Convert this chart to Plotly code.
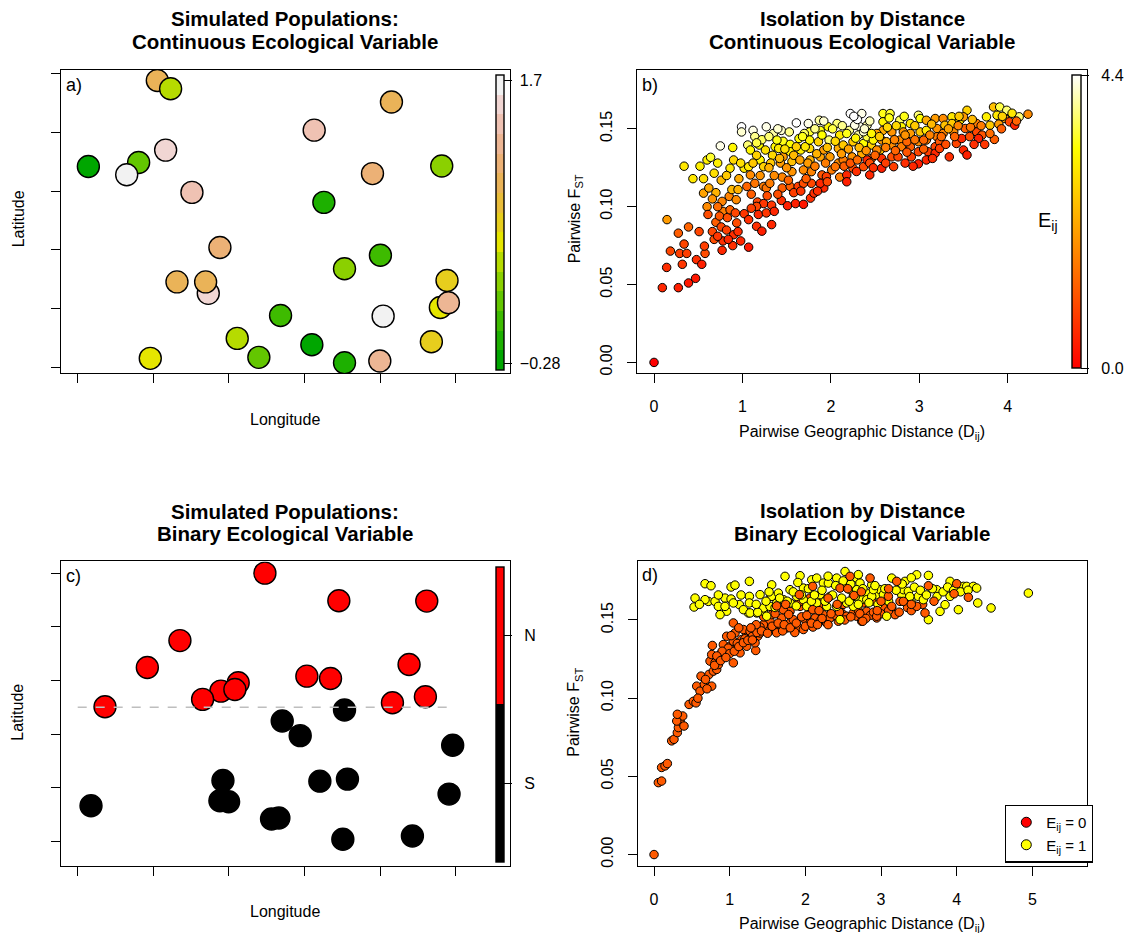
import colorsys
import plotly.graph_objects as go

# ---------------- DATA ----------------
# Panel a: simulated populations, continuous ecological variable
lon_a = [1.053, 1.229, 4.15, 3.128, 1.163, 0.141, 0.806, 0.648, 4.815, 3.899,
         1.511, 3.256, 1.881, 4.004, 3.529, 1.313, 1.727, 1.692, 4.885, 4.797,
         4.903, 2.683, 4.04, 2.11, 3.097, 2.396, 3.529, 3.996, 4.678, 0.960]
lat_a = [4.887, 4.745, 4.52, 4.04, 3.70, 3.42, 3.49, 3.28, 3.43, 3.30,
         2.98, 2.81, 2.04, 1.91, 1.68, 1.455, 1.26, 1.455, 1.478, 1.02,
         1.10, 0.883, 0.872, 0.493, 0.385, 0.17, 0.079, 0.108, 0.436, 0.153]
env_a = [0.98, 0.43, 0.98, 1.40, 1.53, -0.26, 0.16, 1.67, 0.30, 1.12,
         1.40, -0.12, 1.12, 0.02, 0.30, 0.98, 1.53, 0.98, 0.71, 0.57,
         1.26, 0.02, 1.67, 0.43, -0.26, 0.16, -0.12, 1.26, 0.71, 0.57]
env_a_ticks = [-0.28, 1.7]
env_a_ticktext = ["\u22120.28", "1.7"]

# Panel c: simulated populations, binary ecological variable (1 = N, 0 = S)
lon_c = [2.476, 3.454, 4.617, 1.352, 0.921, 4.383, 3.031, 3.344, 2.123, 1.894,
         2.079, 1.652, 0.361, 4.163, 4.599,
         3.529, 2.705, 2.943, 4.960, 1.921, 3.203, 3.568, 1.881, 1.996, 4.912,
         0.176, 2.564, 2.661, 3.507, 4.427]
lat_c = [5.0, 4.486, 4.479, 3.742, 3.240, 3.296, 3.079, 3.036, 2.955, 2.800,
         2.831, 2.646, 2.509, 2.584, 2.695,
         2.447, 2.243, 1.970, 1.791, 1.134, 1.121, 1.159, 0.756, 0.737, 0.880,
         0.663, 0.415, 0.434, 0.037, 0.099]
env_c = [1] * 15 + [0] * 15
boundary_lat = 2.5
boundary_lon = [0, 5]

# Panel b: isolation by distance, continuous variable
D_b = [0, 0.094, 0.275, 0.39, 0.47, 0.143, 0.32, 0.48, 0.54, 0.185,
       0.29, 0.37, 0.34, 0.577, 0.57, 0.147, 0.275, 0.39, 0.51, 0.68,
       0.77, 0.89, 1.07, 0.60, 0.61, 0.70, 0.76, 0.82, 0.78, 0.90,
       0.935, 1.02, 1.07, 1.16, 1.22, 1.18, 1.27, 1.33, 1.17, 1.24,
       1.33, 1.44, 1.51, 1.60, 1.69, 1.77, 1.81, 1.92, 0.56, 0.70,
       0.77, 0.78, 0.85, 0.93, 0.88, 0.95, 0.34, 0.44, 0.52, 0.56,
       0.60, 0.64, 0.68, 0.75, 0.76, 0.89, 0.90, 0.86, 0.99, 0.99,
       1.02, 1.07, 1.06, 1.12, 1.14, 1.19, 1.20, 1.24, 1.27, 1.35,
       1.37, 1.34, 1.32, 1.44, 1.46, 1.46, 1.45, 1.45, 1.53, 1.54,
       1.56, 1.56, 1.54, 1.61, 1.64, 1.66, 1.63, 1.69, 1.745, 1.76,
       1.76, 1.765, 1.78, 1.78, 1.87, 1.88, 1.86, 1.88, 1.90, 1.97,
       1.98, 1.99, 2.01, 2.07, 2.085, 2.085, 2.10, 2.18, 2.18, 2.22,
       2.21, 2.25, 2.24, 2.25, 2.29, 2.35, 2.33, 2.31, 2.37, 2.35,
       2.37, 2.44, 2.41, 2.46, 2.46, 2.41, 2.59, 2.59, 2.59, 2.575,
       2.56, 2.575, 2.575, 2.67, 2.69, 2.69, 2.69, 2.71, 2.78, 2.80,
       2.78, 2.80, 2.76, 2.90, 2.90, 2.90, 2.91, 2.99, 3.01, 3.01,
       2.99, 2.99, 2.99, 3.08, 3.08, 3.08, 3.10, 3.08, 3.18, 3.20,
       3.20, 3.18, 3.18, 3.27, 3.29, 3.27, 3.23, 3.23, 3.37, 3.37,
       3.39, 3.42, 3.48, 3.50, 3.54, 3.46, 3.54, 3.50, 3.52, 3.65,
       3.65, 3.71, 3.67, 3.76, 3.80, 3.85, 3.84, 3.91, 3.88, 3.99,
       3.97, 4.02, 4.08, 4.13, 4.23, 1.09, 1.16, 1.26, 1.39, 1.41,
       1.43, 1.24, 1.27, 1.31, 1.16, 1.05, 1.09, 1.69, 1.88, 1.95,
       2.05, 2.14, 1.54, 1.61, 1.71, 1.76, 1.92, 2.10, 2.14, 2.18,
       2.27, 2.41, 2.37, 2.52, 2.48, 2.52, 2.63, 2.82, 2.86, 3.05]
F_b = [0, 0.048, 0.048, 0.051, 0.054, 0.061, 0.063, 0.066, 0.063, 0.0715,
       0.070, 0.070, 0.076, 0.070, 0.0747, 0.0917, 0.083, 0.087, 0.084, 0.079,
       0.072, 0.075, 0.074, 0.100, 0.095, 0.090, 0.087, 0.085, 0.078, 0.082,
       0.0896, 0.0955, 0.0917, 0.0874, 0.0843, 0.095, 0.096, 0.0885, 0.103, 0.102,
       0.101, 0.104, 0.1006, 0.102, 0.1015, 0.1055, 0.1087, 0.112, 0.1087, 0.109,
       0.1034, 0.097, 0.1066, 0.1045, 0.111, 0.111, 0.126, 0.118, 0.126, 0.118,
       0.130, 0.1317, 0.1215, 0.139, 0.117, 0.138, 0.130, 0.1247, 0.1513, 0.148,
       0.1247, 0.1257, 0.1396, 0.149, 0.145, 0.1396, 0.130, 0.1257, 0.1513, 0.147,
       0.1385, 0.133, 0.128, 0.149, 0.142, 0.132, 0.119, 0.112, 0.148, 0.140,
       0.129, 0.1225, 0.113, 0.1538, 0.1438, 0.1364, 0.113, 0.1236, 0.1534, 0.148,
       0.1374, 0.130, 0.1225, 0.115, 0.1555, 0.149, 0.1417, 0.132, 0.1204, 0.1513,
       0.1428, 0.132, 0.1236, 0.1534, 0.1374, 0.128, 0.119, 0.1204, 0.116, 0.1598,
       0.149, 0.1417, 0.132, 0.1247, 0.1226, 0.1598, 0.1513, 0.146, 0.1406, 0.134,
       0.1257, 0.1204, 0.1449, 0.1396, 0.131, 0.130, 0.1598, 0.1545, 0.149, 0.1428,
       0.1364, 0.131, 0.1247, 0.1598, 0.148, 0.1396, 0.132, 0.1257, 0.1555, 0.1513,
       0.1428, 0.1385, 0.132, 0.1534, 0.147, 0.1385, 0.132, 0.1587, 0.1566, 0.148,
       0.1417, 0.1353, 0.1275, 0.1555, 0.149, 0.1428, 0.1353, 0.130, 0.1566, 0.1502,
       0.1449, 0.1385, 0.1343, 0.1566, 0.1523, 0.147, 0.1417, 0.1374, 0.1577, 0.1534,
       0.148, 0.1406, 0.1438, 0.1364, 0.1332, 0.1555, 0.1619, 0.1577, 0.1502, 0.1534,
       0.148, 0.146, 0.1438, 0.1577, 0.1523, 0.1432, 0.164, 0.164, 0.1587, 0.1619,
       0.1566, 0.1545, 0.1523, 0.1577, 0.1594, 0.1364, 0.133, 0.1364, 0.1428, 0.1374,
       0.128, 0.113, 0.112, 0.115, 0.1002, 0.113, 0.1204, 0.115, 0.115, 0.1194,
       0.1257, 0.130, 0.1353, 0.1385, 0.1385, 0.1428, 0.1364, 0.146, 0.1396, 0.147,
       0.1523, 0.1523, 0.1481, 0.147, 0.1428, 0.1364, 0.1417, 0.148, 0.1417, 0.1428]
E_b = [0, 0.5, 0.4, 0.3, 0.3, 0.6, 0.7, 0.6, 0.4, 0.9,
       0.8, 0.8, 0.9, 1.0, 0.8, 2.0, 1.2, 1.3, 0.9, 1.0,
       0.5, 0.6, 0.3, 1.8, 1.0, 1.2, 0.9, 0.8, 0.6, 0.6,
       1.0, 0.7, 0.6, 0.6, 0.4, 0.5, 0.7, 0.5, 0.9, 0.7,
       0.7, 0.6, 0.4, 0.4, 0.3, 0.6, 0.6, 0.5, 2.1, 2.3,
       1.7, 1.6, 1.7, 1.8, 2.4, 2.3, 3.0, 3.0, 3.1, 2.9,
       3.1, 3.5, 2.9, 4.3, 2.4, 3.2, 2.8, 3.0, 4.4, 4.2,
       3.0, 3.0, 3.8, 4.3, 3.9, 3.3, 3.2, 2.7, 4.3, 4.0,
       3.2, 2.8, 2.6, 4.2, 3.4, 2.0, 1.7, 1.2, 3.9, 3.3,
       2.5, 1.9, 1.2, 4.4, 3.3, 3.1, 0.8, 1.8, 4.3, 3.5,
       2.8, 2.3, 1.7, 0.9, 4.0, 3.4, 2.7, 2.1, 1.1, 3.2,
       3.8, 2.0, 1.6, 3.8, 2.2, 1.8, 1.6, 0.5, 0.4, 4.4,
       3.9, 2.6, 1.9, 1.0, 0.6, 4.3, 4.3, 4.0, 3.3, 2.2,
       1.0, 0.5, 3.6, 2.7, 1.2, 0.5, 3.4, 3.2, 2.2, 2.0,
       2.5, 0.6, 0.4, 3.5, 1.9, 1.8, 1.0, 0.8, 3.7, 3.2,
       1.8, 1.6, 0.9, 3.0, 2.0, 1.2, 0.8, 3.8, 3.3, 2.6,
       1.8, 0.9, 0.4, 2.2, 3.0, 1.6, 0.8, 0.5, 2.0, 1.9,
       1.6, 0.9, 0.5, 1.8, 2.5, 1.7, 1.1, 0.8, 3.0, 2.6,
       1.8, 0.9, 0.5, 0.5, 0.4, 3.1, 2.7, 2.0, 1.2, 1.6,
       0.9, 1.1, 0.4, 3.1, 2.6, 1.2, 2.5, 3.6, 3.0, 3.8,
       2.1, 0.9, 0.5, 3.8, 1.8, 3.2, 2.7, 2.9, 3.4, 3.0,
       2.0, 1.6, 1.5, 1.6, 0.9, 1.3, 1.8, 1.0, 0.5, 0.8,
       1.5, 1.6, 3.1, 2.7, 3.0, 3.2, 2.0, 3.0, 2.6, 3.4,
       4.3, 4.0, 4.2, 2.1, 3.2, 1.8, 2.2, 1.9, 1.3, 1.3]
D_b2 = [0.62, 0.66, 0.72, 0.74, 0.83, 0.86, 0.66, 0.72, 0.84, 0.95,
        0.98, 0.92, 0.96, 0.82, 0.98, 0.72, 1.10, 1.14, 1.20, 1.12,
        1.30, 1.36, 1.40, 1.28, 1.36, 1.10, 1.22, 1.30, 1.16, 1.40,
        1.48, 1.50, 1.42, 1.52, 1.58, 1.66, 1.72, 1.74, 1.82, 1.84,
        1.94, 1.96, 1.90, 1.82, 1.70, 1.58, 1.65, 1.96, 1.85, 1.68,
        1.92, 2.02, 2.05, 2.12, 2.15, 2.20, 2.22, 2.30, 2.32, 2.28,
        2.40, 2.44, 2.46, 2.44, 2.30, 2.38, 2.26, 2.13, 2.48, 2.50,
        2.55, 2.62, 2.64, 2.62, 2.72, 2.74, 2.73, 2.84, 2.86, 2.84,
        2.95, 2.95, 2.93, 2.66, 2.83, 3.05, 3.12, 3.14, 3.15, 3.25,
        3.30, 3.33, 3.34, 3.44, 3.40, 3.45, 3.58, 3.60, 3.57, 3.70,
        3.74, 3.80, 3.90, 3.94, 4.05, 4.10, 3.62, 3.93]
F_b2 = [0.112, 0.105, 0.100, 0.094, 0.093, 0.098, 0.084, 0.081, 0.079, 0.084,
        0.078, 0.096, 0.118, 0.120, 0.128, 0.128, 0.108, 0.115, 0.120, 0.128,
        0.125, 0.120, 0.108, 0.107, 0.097, 0.099, 0.143, 0.145, 0.141, 0.150,
        0.137, 0.125, 0.131, 0.117, 0.109, 0.110, 0.118, 0.128, 0.126, 0.134,
        0.128, 0.138, 0.146, 0.150, 0.147, 0.133, 0.130, 0.116, 0.110, 0.145,
        0.155, 0.150, 0.142, 0.134, 0.126, 0.137, 0.128, 0.130, 0.138, 0.144,
        0.136, 0.128, 0.147, 0.155, 0.156, 0.150, 0.158, 0.152, 0.125, 0.133,
        0.145, 0.138, 0.151, 0.128, 0.143, 0.152, 0.136, 0.146, 0.135, 0.128,
        0.143, 0.152, 0.126, 0.157, 0.158, 0.137, 0.146, 0.153, 0.131, 0.145,
        0.140, 0.150, 0.132, 0.152, 0.145, 0.158, 0.151, 0.156, 0.145, 0.152,
        0.140, 0.147, 0.153, 0.158, 0.160, 0.155, 0.140, 0.150]
E_b2 = [2.2, 1.9, 1.4, 1.1, 1.0, 1.3, 0.9, 0.7, 0.5, 0.6,
        0.5, 0.9, 2.2, 2.6, 2.9, 3.1, 1.2, 1.5, 1.9, 2.6,
        2.3, 1.8, 1.0, 1.0, 0.5, 0.8, 3.7, 3.8, 3.6, 4.2,
        2.9, 1.9, 2.4, 1.3, 0.8, 0.7, 1.2, 2.0, 1.6, 2.3,
        1.6, 2.5, 3.3, 3.9, 3.7, 2.4, 2.1, 0.9, 0.6, 3.4,
        4.2, 3.6, 2.8, 2.0, 1.2, 2.1, 1.1, 1.4, 2.4, 3.2,
        1.9, 1.0, 3.2, 4.1, 4.4, 4.2, 4.4, 3.9, 0.6, 1.3,
        2.6, 1.6, 2.8, 0.8, 1.7, 2.8, 1.3, 1.9, 1.1, 0.6,
        1.5, 2.6, 0.5, 3.4, 3.4, 1.2, 1.7, 2.4, 0.6, 1.4,
        1.0, 2.1, 0.6, 1.7, 1.3, 2.6, 1.5, 2.4, 1.0, 1.6,
        0.7, 1.4, 2.0, 2.7, 3.0, 1.3, 0.6, 1.2]
E_b_range = [0.0, 4.4]

# Panel d: isolation by distance, binary variable
# pairs with E_ij = 0 (drawn first)
D_d0 = [0, 0.057, 0.10, 0.10, 0.145, 0.176, 0.233, 0.264, 0.308, 0.322,
        0.344, 0.379, 0.396, 0.30, 0.308, 0.463, 0.52, 0.555, 0.564, 0.608,
        0.665, 0.762, 0.621, 0.727, 0.784, 0.828, 0.740, 0.806, 0.762, 0.872,
        0.894, 0.960, 0.916, 1.004, 1.048, 1.093, 0.960, 1.070, 1.159, 1.225,
        1.181, 1.269, 1.348, 1.370, 1.344, 1.401, 1.467, 1.489, 1.533, 1.445,
        1.335, 1.225, 1.137, 1.048, 0.916, 0.850, 1.048, 0.771, 1.20, 1.30,
        1.40, 1.10, 0.98, 0.90, 0.83, 1.599, 1.665, 1.687, 1.753, 1.797,
        1.841, 1.907, 1.974, 1.996, 2.062, 2.128, 2.194, 2.238, 2.282, 2.326,
        2.436, 2.502, 2.546, 2.634, 2.678, 2.744, 2.811, 2.943, 3.031, 3.141,
        3.185, 1.62, 1.70, 1.86, 2.00, 2.10, 2.30, 2.40, 2.70, 2.86,
        1.797, 1.930, 2.458, 1.555, 1.709, 1.907, 2.238, 2.634, 2.767, 2.062,
        1.00, 1.06, 1.12, 1.18, 1.24, 1.30, 1.36, 1.42, 1.50, 1.56,
        1.64, 1.72, 1.80, 1.88, 1.95, 2.02, 2.08, 2.16, 2.22, 2.34,
        2.45, 2.52, 2.60, 2.72, 2.80, 2.90, 3.00, 3.10, 3.24, 3.35,
        3.40, 3.55, 1.35, 1.60, 1.78, 2.20, 2.50, 2.88, 0.58, 0.68,
        0.70, 0.80, 0.88, 0.95, 1.02, 1.12, 1.28, 1.45]
F_d0 = [0, 0.046, 0.047, 0.0557, 0.0567, 0.0582, 0.0727, 0.0737, 0.078, 0.0812,
        0.0854, 0.0886, 0.0822, 0.0854, 0.0897, 0.096, 0.098, 0.097, 0.1077, 0.1045,
        0.1088, 0.1077, 0.1141, 0.1152, 0.1173, 0.1184, 0.1237, 0.1226, 0.1279, 0.1247,
        0.129, 0.129, 0.1343, 0.1332, 0.1364, 0.1311, 0.1396, 0.1417, 0.1375, 0.1407,
        0.1439, 0.1428, 0.1449, 0.1396, 0.1305, 0.1417, 0.1439, 0.1481, 0.1492, 0.147,
        0.1354, 0.1332, 0.129, 0.1226, 0.1269, 0.1215, 0.1481, 0.1337, 0.1380, 0.1395,
        0.1455, 0.1350, 0.1320, 0.1300, 0.1270, 0.1439, 0.147, 0.1513, 0.1449, 0.1481,
        0.1502, 0.1449, 0.1439, 0.1502, 0.1481, 0.1513, 0.1492, 0.1534, 0.1481, 0.1513,
        0.1492, 0.1534, 0.1524, 0.1545, 0.1524, 0.1492, 0.1555, 0.1513, 0.1577, 0.1577,
        0.1534, 0.1418, 0.1430, 0.1420, 0.1460, 0.1455, 0.1470, 0.1530, 0.1560, 0.1530,
        0.1555, 0.1587, 0.1577, 0.1534, 0.1566, 0.1609, 0.163, 0.1651, 0.1609, 0.164,
        0.1285, 0.1300, 0.1330, 0.1355, 0.1370, 0.1372, 0.1420, 0.1430, 0.1415, 0.1460,
        0.1480, 0.1470, 0.1450, 0.1480, 0.1520, 0.1530, 0.1480, 0.1470, 0.1510, 0.1540,
        0.1550, 0.1500, 0.1520, 0.1540, 0.1510, 0.1550, 0.1540, 0.1560, 0.1550, 0.1580,
        0.1560, 0.1600, 0.1470, 0.1540, 0.1535, 0.1590, 0.1600, 0.1620, 0.1000, 0.1120,
        0.1060, 0.1210, 0.1240, 0.1260, 0.1400, 0.1450, 0.1450, 0.1520]
# pairs with E_ij = 1
D_d1 = [0.674, 0.753, 1.018, 1.070, 1.260, 0.542, 0.529, 0.718, 0.806, 0.850,
        0.938, 0.960, 1.018, 1.128, 0.872, 1.260, 1.260, 1.401, 1.247, 1.357,
        1.445, 1.555, 1.546, 1.445, 1.555, 1.621, 1.731, 1.797, 1.885, 1.930,
        1.974, 2.084, 2.150, 2.238, 2.304, 2.414, 2.524, 2.546, 2.590, 2.678,
        2.722, 2.811, 2.877, 2.943, 2.987, 3.031, 3.075, 3.141, 3.273, 3.295,
        3.317, 3.361, 3.405, 3.471, 3.493, 3.559, 3.626, 3.626, 3.736, 3.780,
        3.846, 3.912, 3.912, 4.022, 4.088, 4.132, 4.220, 4.264, 4.278, 4.454,
        4.947, 1.533, 1.643, 1.709, 1.797, 1.974, 2.018, 2.150, 2.194, 2.282,
        2.326, 2.414, 2.458, 2.546, 2.634, 2.678, 2.744, 2.811, 2.877, 2.899,
        0.674, 0.938, 1.048, 1.181, 1.269, 1.370, 1.489,
        1.48, 1.52, 1.60, 1.66, 1.76, 1.84, 1.88, 1.95, 2.04, 2.08,
        2.12, 2.22, 2.26, 2.36, 2.40, 2.48, 2.50, 2.58, 2.60, 2.66,
        2.70, 2.76, 2.84, 2.92, 2.96, 3.05, 3.10, 3.20, 3.28, 3.38,
        3.44, 3.52, 3.60, 3.68, 3.74, 3.82, 3.88, 3.96, 4.05, 4.15,
        1.15, 0.85, 0.60, 1.35, 1.90, 2.30, 2.70, 3.40]
F_d1 = [0.1732, 0.1719, 0.1711, 0.1723, 0.1747, 0.164, 0.1583, 0.1619, 0.1619, 0.1587,
        0.164, 0.1556, 0.1634, 0.1598, 0.1534, 0.1651, 0.1609, 0.1662, 0.1545, 0.1545,
        0.1556, 0.1725, 0.1651, 0.1577, 0.1651, 0.1609, 0.1779, 0.1694, 0.1651, 0.1783,
        0.1704, 0.1757, 0.1768, 0.1736, 0.1736, 0.1768, 0.1810, 0.1736, 0.1694, 0.1768,
        0.1736, 0.1672, 0.1725, 0.1662, 0.1694, 0.1662, 0.1524, 0.1768, 0.1662, 0.1694,
        0.1747, 0.1683, 0.1609, 0.1789, 0.1651, 0.163, 0.1785, 0.1502, 0.1694, 0.1555,
        0.1598, 0.1747, 0.1651, 0.1566, 0.1715, 0.1715, 0.1715, 0.1704, 0.1609, 0.1577,
        0.1672, 0.1587, 0.1672, 0.163, 0.1609, 0.163, 0.1587, 0.1609, 0.1662, 0.1587,
        0.1651, 0.1587, 0.1502, 0.1609, 0.1587, 0.1694, 0.163, 0.163, 0.1651, 0.1694,
        0.163, 0.1587, 0.1609, 0.1566, 0.1545, 0.1549, 0.1524,
        0.1620, 0.1680, 0.1580, 0.1640, 0.1620, 0.1680, 0.1590, 0.1660, 0.1700, 0.1620,
        0.1660, 0.1690, 0.1620, 0.1660, 0.1720, 0.1640, 0.1750, 0.1620, 0.1730, 0.1650,
        0.1600, 0.1700, 0.1610, 0.1720, 0.1600, 0.1700, 0.1620, 0.1690, 0.1730, 0.1650,
        0.1710, 0.1690, 0.1660, 0.1700, 0.1650, 0.1680, 0.1710, 0.1690, 0.1680, 0.1690,
        0.1660, 0.1660, 0.1600, 0.1600, 0.1740, 0.1780, 0.1790, 0.1770]
# further pairs with E_ij = 0 (drawn on top)
D_d2 = [2.097, 1.921, 2.097, 2.643, 2.855, 3.097, 3.141, 3.251, 3.207, 2.943,
        2.758, 2.590, 2.458, 3.626, 4.0, 3.965, 4.154, 3.295, 3.471, 3.581,
        2.30, 2.56, 2.74, 3.00, 3.40, 1.74, 2.18, 2.42, 3.10, 3.70,
        2.95, 1.62]
F_d2 = [0.1715, 0.1662, 0.1566, 0.1657, 0.1768, 0.1651, 0.1587, 0.1619, 0.1747, 0.1524,
        0.1492, 0.1779, 0.1704, 0.1719, 0.1732, 0.1668, 0.1645, 0.1619, 0.1587, 0.1545,
        0.1640, 0.1700, 0.1680, 0.1620, 0.1600, 0.1600, 0.1560, 0.1600, 0.1700, 0.1620,
        0.1560, 0.1590]

legend_labels = ["E<sub>ij</sub> = 0", "E<sub>ij</sub> = 1"]
ibd_ticks_x_b = [0, 1, 2, 3, 4]
ibd_ticks_x_d = [0, 1, 2, 3, 4, 5]
fst_ticks = [0.0, 0.05, 0.10, 0.15]
map_ticks = [0, 1, 2, 3, 4, 5]

# ---------------- STYLE ----------------
PAGE_W, PAGE_H = 1134, 941
OFF = 8  # default body margin of the html page
W, H = PAGE_W - 2 * OFF, PAGE_H - 2 * OFF
FONT = "Liberation Sans, Arial, Helvetica, sans-serif"


def fx(p):
    return (p - OFF) / W


def fy(p):
    return 1 - (p - OFF) / H


def terrain(n):
    k = n // 2
    cols = []
    for i in range(k):
        t = i / (k - 1)
        h = 4 / 12 + (2 / 12 - 4 / 12) * t
        v = 0.65 + (0.9 - 0.65) * t
        cols.append(colorsys.hsv_to_rgb(h, 1, v))
    m = n - k + 1
    for i in range(1, m):
        t = i / (m - 1)
        h = 2 / 12 * (1 - t)
        s = 1 - t
        v = 0.9 + 0.05 * t
        cols.append(colorsys.hsv_to_rgb(h, s, v))
    return ["rgb(%d,%d,%d)" % tuple(round(c * 255) for c in rgb) for rgb in cols]


terr = terrain(15)
terr_scale = []
for i, c in enumerate(terr):
    terr_scale.append([i / 15, c])
    terr_scale.append([(i + 1) / 15, c])

heat_scale = [[0, "#FF0000"], [0.75, "#FFFF00"], [1, "#FFFFFF"]]
split = 0.535
bin_scale = [[0, "black"], [split, "black"], [split, "red"], [1, "red"]]

ORANGE = "#FF5A00"
YELLOW = "#FFFF00"
PT = 8.5

fig = go.Figure()

cb_common = dict(thicknessmode="pixels", lenmode="fraction", xanchor="left",
                 yanchor="bottom", xpad=0, ypad=0, outlinecolor="black",
                 outlinewidth=1.4, ticks="outside", ticklen=8, tickwidth=1.3,
                 tickcolor="black", tickfont=dict(family=FONT, size=16, color="black"))

# panel a
fig.add_trace(go.Scatter(
    x=lon_a, y=lat_a, mode="markers", xaxis="x", yaxis="y", showlegend=False,
    marker=dict(size=22, color=env_a, colorscale=terr_scale, cmin=-0.325, cmax=1.74,
                line=dict(color="black", width=1.4),
                colorbar=dict(x=fx(496), y=fy(370.7), len=295.7 / H, thickness=8,
                              tickvals=env_a_ticks,
                              ticktext=["\u00a0" + t for t in env_a_ticktext],
                              **cb_common))))

# panel b
fig.add_trace(go.Scatter(
    x=D_b + D_b2, y=F_b + F_b2, mode="markers", xaxis="x2", yaxis="y2", showlegend=False,
    marker=dict(size=PT, color=E_b + E_b2, colorscale=heat_scale,
                cmin=E_b_range[0], cmax=E_b_range[1],
                line=dict(color="black", width=1),
                colorbar=dict(x=fx(1072), y=fy(369.3), len=294.3 / H, thickness=9,
                              tickvals=E_b_range, ticktext=["\u00a0\u00a00.0", "\u00a0\u00a04.4"],
                              **cb_common))))

# panel c
fig.add_trace(go.Scatter(
    x=lon_c, y=lat_c, mode="markers", xaxis="x3", yaxis="y3", showlegend=False,
    marker=dict(size=22, color=env_c, colorscale=bin_scale, cmin=0, cmax=1,
                line=dict(color="black", width=1.4),
                colorbar=dict(x=fx(496), y=fy(865), len=296 / H, thickness=8,
                              tickvals=[split / 2, (1 + split) / 2],
                              ticktext=["\u00a0\u00a0S", "\u00a0\u00a0N"],
                              **cb_common))))
fig.add_trace(go.Scatter(
    x=boundary_lon, y=[boundary_lat, boundary_lat], mode="lines", xaxis="x3", yaxis="y3",
    showlegend=False, line=dict(color="#BEBEBE", width=1.5, dash="dash")))

# panel d
for dx, dy, col in [(D_d0, F_d0, ORANGE), (D_d1, F_d1, YELLOW), (D_d2, F_d2, ORANGE)]:
    fig.add_trace(go.Scatter(
        x=dx, y=dy, mode="markers", xaxis="x4", yaxis="y4", showlegend=False,
        marker=dict(size=PT, color=col, line=dict(color="black", width=1))))
for lab, col in zip(legend_labels, ["#FF0000", "#FFFF00"]):
    fig.add_trace(go.Scatter(
        x=[None], y=[None], mode="markers", xaxis="x4", yaxis="y4", name=lab,
        marker=dict(size=10, color=col, line=dict(color="black", width=1))))


def axis(domain, rng, ticks, labels, anchor, angle=0, standoff=10, fmt=None):
    return dict(domain=domain, range=rng, anchor=anchor, tickvals=ticks,
                showticklabels=labels, tickangle=angle, ticklabelstandoff=standoff,
                showline=True, mirror=True, linecolor="black", linewidth=1.3,
                ticks="outside", ticklen=9, tickwidth=1.3, tickcolor="black",
                showgrid=False, zeroline=False, tickformat=fmt,
                tickfont=dict(family=FONT, size=16, color="black"))


dom_left = [fx(60.7), fx(510)]
dom_right_b = [fx(636.7), fx(1086.7)]
dom_right_d = [fx(637.7), fx(1086.7)]
dom_top = [fy(374.2), fy(70)]
dom_bot = [fy(868.3), fy(563.3)]

layout_axes = dict(
    xaxis=axis(dom_left, [-0.2249, 5.718], map_ticks, False, "y"),
    yaxis=axis(dom_top, [-0.097, 5.068], map_ticks, False, "x"),
    xaxis2=axis(dom_right_b, [-0.196, 4.894], ibd_ticks_x_b, True, "y2", fmt="d"),
    yaxis2=axis(dom_top, [-0.0068, 0.1879], fst_ticks, True, "x2", angle=-90, standoff=8, fmt=".2f"),
    xaxis3=axis(dom_left, [-0.2249, 5.718], map_ticks, False, "y3"),
    yaxis3=axis(dom_bot, [-0.452, 5.217], map_ticks, False, "x3"),
    xaxis4=axis(dom_right_d, [-0.2159, 5.718], ibd_ticks_x_d, True, "y4", fmt="d"),
    yaxis4=axis(dom_bot, [-0.0070, 0.1874], fst_ticks, True, "x4", angle=-90, standoff=8, fmt=".2f"),
)


def ann(text, x, y, size=16, angle=0, bold=False):
    if bold:
        text = "<b>" + text + "</b>"
    return dict(text=text, x=fx(x), y=fy(y), xref="paper", yref="paper",
                showarrow=False, textangle=angle, xanchor="center", yanchor="middle",
                font=dict(family=FONT, size=size, color="black"))


TS = 20.5
annotations = [
    ann("Simulated Populations:", 285, 19, TS, bold=True),
    ann("Continuous Ecological Variable", 285, 42, TS, bold=True),
    ann("Isolation by Distance", 862, 19, TS, bold=True),
    ann("Continuous Ecological Variable", 862, 42, TS, bold=True),
    ann("Simulated Populations:", 285, 513, TS, bold=True),
    ann("Binary Ecological Variable", 285, 535, TS, bold=True),
    ann("Isolation by Distance", 862, 512, TS, bold=True),
    ann("Binary Ecological Variable", 862, 535, TS, bold=True),
    ann("Longitude", 285, 421),
    ann("Latitude", 18, 220, angle=-90),
    ann("Longitude", 285, 914),
    ann("Latitude", 18, 715, angle=-90),
    ann("Pairwise F<sub>ST</sub>", 575, 220, angle=-90),
    ann("Pairwise F<sub>ST</sub>", 575, 715, angle=-90),
    ann("Pairwise Geographic Distance (D<sub>ij</sub>)", 862, 434),
    ann("Pairwise Geographic Distance (D<sub>ij</sub>)", 862, 927),
    ann("a)", 74, 85, 18),
    ann("b)", 650, 85, 18),
    ann("c)", 73, 578, 18),
    ann("d)", 650, 577, 18),
    ann("E<sub>ij</sub>", 1048, 222, 20),
]

fig.update_layout(
    width=W, height=H, autosize=False,
    margin=dict(l=0, r=0, t=0, b=0),
    paper_bgcolor="white", plot_bgcolor="white",
    font=dict(family=FONT, size=16, color="black"),
    annotations=annotations,
    legend=dict(x=fx(1005), y=fy(807.3), xanchor="left", yanchor="top",
                bgcolor="white", bordercolor="black", borderwidth=1.3,
                font=dict(family=FONT, size=15, color="black"),
                tracegroupgap=0),
    **layout_axes,
)

fig.write_html("out.html")
